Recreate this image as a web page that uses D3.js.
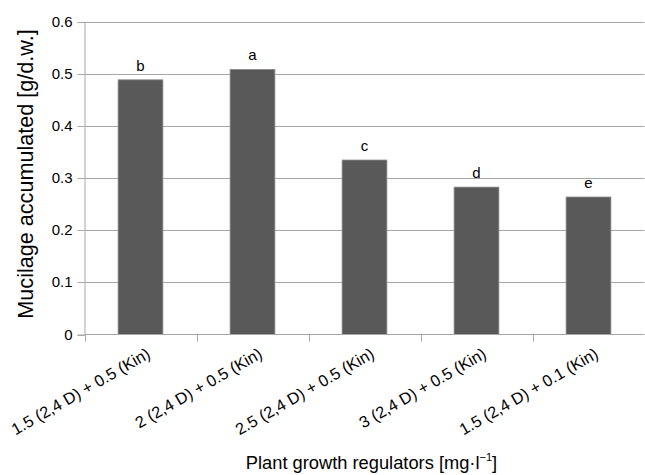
<!DOCTYPE html>
<html><head><meta charset="utf-8">
<script src="https://cdn.jsdelivr.net/npm/d3@7"></script>
<style>body{margin:0;background:#fff}svg{display:block}text{font-family:"Liberation Sans",Arial,sans-serif;fill:#000}</style>
</head><body><svg id="c" width="645" height="475"></svg>
<script>
const categories = ["1.5 (2,4 D) + 0.5 (Kin)","2 (2,4 D) + 0.5 (Kin)","2.5 (2,4 D) + 0.5 (Kin)","3 (2,4 D) + 0.5 (Kin)","1.5 (2,4 D) + 0.1 (Kin)"];
const values = [0.489, 0.509, 0.335, 0.283, 0.264];
const letters = ["b","a","c","d","e"];
const yTicks = [0,0.1,0.2,0.3,0.4,0.5,0.6];
const yTitle = "Mucilage accumulated [g/d.w.]";

const svg = d3.select("#c");
const L = 84.5, R = 644.5, B = 334.5, T = 22;
const x = d3.scaleBand().domain(categories).range([L, R]).paddingInner(0.6).paddingOuter(0.3);
const xb = d3.scaleBand().domain(categories).range([L, R]);
const y = d3.scaleLinear().domain([0, 0.6]).range([B, T]);
const grid = "#a6a6a6";

// gridlines
svg.append("g").selectAll("line").data(yTicks.filter(d=>d>0)).join("line")
  .attr("x1", L).attr("x2", R).attr("y1", d=>Math.round(y(d))+0.5).attr("y2", d=>Math.round(y(d))+0.5)
  .attr("stroke", grid).attr("stroke-width", 1);

// y axis
const ya = svg.append("g").attr("transform", `translate(${L},0)`)
  .call(d3.axisLeft(y).tickValues(yTicks).tickFormat(d=>d===0?"0":d3.format(".1f")(d)).tickSize(7).tickPadding(5));
ya.select(".domain").attr("stroke", grid);
ya.selectAll(".tick line").attr("stroke", grid);
ya.selectAll(".tick").attr("transform", d=>`translate(0,${Math.round(y(d))+0.5})`);
ya.selectAll("text").attr("font-size", 15).attr("fill", "#000").attr("font-family", "Liberation Sans, Arial, sans-serif");

// bars
svg.append("g").selectAll("rect").data(values).join("rect")
  .attr("x", (d,i)=>x(categories[i])).attr("width", x.bandwidth())
  .attr("y", d=>y(d)).attr("height", d=>B - y(d))
  .attr("fill", "#595959").attr("stroke", "#8c8c8c").attr("stroke-width", 0.8);

// x axis
const xa = svg.append("g").attr("transform", `translate(0,${B})`);
xa.append("line").attr("x1", L).attr("x2", R).attr("stroke", grid);
const tickX = [L, ...categories.map(c=>xb(c)+xb.bandwidth())];
xa.selectAll("line.t").data(tickX).join("line").attr("class","t")
  .attr("x1", d=>Math.round(d)+0.5).attr("x2", d=>Math.round(d)+0.5).attr("y1", 0).attr("y2", 7).attr("stroke", grid);

// category labels
svg.append("g").selectAll("text").data(categories).join("text")
  .attr("transform", c=>`translate(${xb(c)+xb.bandwidth()/2+11},357) rotate(-30)`)
  .attr("text-anchor", "end").attr("font-size", 16.3).text(c=>c);

// letters
svg.append("g").selectAll("text").data(values).join("text")
  .attr("x", (d,i)=>x(categories[i])+x.bandwidth()/2).attr("y", d=>y(d)-9)
  .attr("text-anchor", "middle").attr("font-size", 15).text((d,i)=>letters[i]);

// y title
svg.append("text").attr("transform", "translate(33,174) rotate(-90)")
  .attr("text-anchor", "middle").attr("font-size", 21.6).text(yTitle);

// x title
const xt = svg.append("text").attr("x", 371.5).attr("y", 469).attr("text-anchor", "middle").attr("font-size", 18.3);
xt.append("tspan").text("Plant growth regulators [mg·l");
xt.append("tspan").attr("dy", -8).attr("font-size", 11).text("−1");
xt.append("tspan").attr("dy", 8).text("]");
</script></body></html>
